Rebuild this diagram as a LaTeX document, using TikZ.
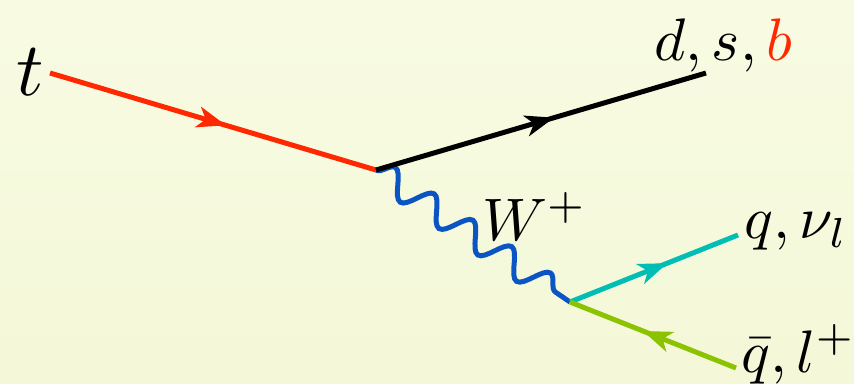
\documentclass[tikz,border=0pt]{standalone}
\usetikzlibrary{decorations.markings,decorations.pathmorphing,arrows.meta}
\definecolor{bgtop}{RGB}{248,251,226}
\definecolor{bgbot}{RGB}{244,248,216}
\definecolor{topred}{RGB}{255,40,0}
\definecolor{wblue}{RGB}{10,85,195}
\definecolor{qcyan}{RGB}{0,190,180}
\definecolor{lgreen}{RGB}{140,195,0}
\begin{document}
\begin{tikzpicture}[x=1pt,y=-1pt,
  fermion/.style={line width=5pt, postaction={decorate},
    decoration={markings, mark=at position #1 with {\arrow{Stealth[length=29pt,width=21pt,inset=8pt]}}}},
  boson/.style={line width=5pt, decorate,
    decoration={snake, segment length=46.9pt, amplitude=13pt}},
  lbl/.style={inner sep=0pt, scale=6},
  biglbl/.style={inner sep=0pt, scale=7.6}]
\useasboundingbox[top color=bgtop, bottom color=bgbot] (0,0) rectangle (854,383);
\coordinate (tin) at (50,73);
\coordinate (v1) at (376,170);
\coordinate (qout) at (706,73);
\coordinate (v2) at (570,302);
\coordinate (f1) at (738,235);
\coordinate (f2) at (736,368);
\draw[boson, wblue] (v1) -- (v2);
\draw[fermion=0.54, topred] (tin) -- (v1);
\draw[fermion=0.54, black] (v1) -- (qout);
\draw[fermion=0.58, qcyan] (v2) -- (f1);
\draw[fermion=0.56, lgreen] (f2) -- (v2);
\node[biglbl, anchor=base] (t) at (30,95) {$t$};
\node[lbl, anchor=base west] (dsb) at (653,60) {$d,s,{\color{topred}b}$};
\node[lbl, anchor=base west] (W) at (481,240) {$W^+$};
\node[lbl, anchor=base west] (qnu) at (743,238) {$q,\nu_l$};
\node[lbl, anchor=base west] (qbl) at (740,372) {$\bar q,l^+$};
\end{tikzpicture}
\end{document}
